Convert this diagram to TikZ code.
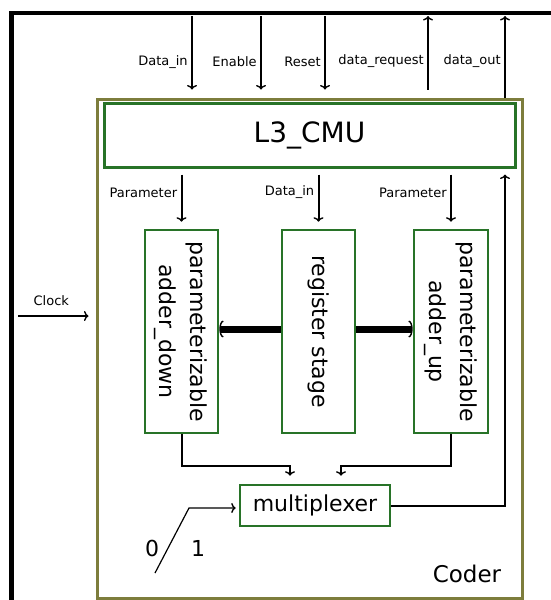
\documentclass[tikz,border=0pt]{standalone}
\usepackage{fontspec}
\setmainfont{DejaVu Sans}
\usepackage{graphicx}
\usetikzlibrary{arrows.meta}
\definecolor{blockgreen}{RGB}{40,115,40}
\definecolor{coderolive}{RGB}{125,125,60}
\tikzset{
  blockbox/.style={draw=blockgreen, line width=2.6pt, fill=white, inner sep=0pt},
  sig/.style={line width=2pt, ->},
  lbl/.style={font=\fontsize{13}{15}\selectfont},
  big/.style={font=\fontsize{22}{31}\selectfont},
}
\newcommand{\vtext}[1]{\rotatebox{-90}{\begin{tabular}{@{}c@{}}#1\end{tabular}}}

\begin{document}
\begin{tikzpicture}[x=1pt,y=-1pt,>={Computer Modern Rightarrow[length=4.5pt,width=10pt,line width=1.4pt]}]
  \useasboundingbox (0,0) rectangle (551,600);
  \draw[line width=4.5pt] (11.5,600) -- (11.5,13) -- (551,13);

  % blocks
  \node[draw=coderolive, line width=3pt, minimum width=425pt, minimum height=499pt] (coder) at (309.5,348.5) {};
  \node[blockbox, line width=3pt, minimum width=411pt, minimum height=64pt, font=\fontsize{28}{32}\selectfont] (cmu) at (309.5,135) {L3\_CMU};
  \node[blockbox, big, minimum width=73pt, minimum height=203pt] (adown) at (181.5,331.5) {\vtext{parameterizable\\adder\_down}};
  \node[blockbox, big, minimum width=73pt, minimum height=203pt] (reg) at (318.5,331.5) {\vtext{register stage}};
  \node[blockbox, big, minimum width=74pt, minimum height=203pt] (aup) at (451,331.5) {\vtext{parameterizable\\adder\_up}};
  \node[blockbox, big, minimum width=150pt, minimum height=41pt] (mux) at (315,505.5) {multiplexer};
  \node[font=\fontsize{23}{28}\selectfont, anchor=base] (codername) at (467,582) {Coder};
  \node[big] (zero) at (152,548) {0};
  \node[big] (one) at (198,548) {1};

  % external signals
  \coordinate (datain) at (192,16);
  \coordinate (enable) at (261,16);
  \coordinate (reset) at (325,16);
  \coordinate (datareq) at (428,16);
  \coordinate (dataout) at (505,16);
  \coordinate (clock) at (18,316);
  \draw[sig, shorten >=8pt] (datain) -- (datain |- coder.north) node[pos=0.56, left, lbl]{Data\_in};
  \draw[sig, shorten >=8pt] (enable) -- (enable |- coder.north) node[pos=0.56, left, lbl]{Enable};
  \draw[sig, shorten >=8pt] (reset) -- (reset |- coder.north) node[pos=0.56, left, lbl]{Reset};
  \draw[sig, shorten <=8pt] (datareq |- coder.north) -- (datareq) node[pos=0.45, left, lbl]{data\_request};
  \draw[sig] (dataout |- coder.north) -- (dataout) node[pos=0.45, left, lbl]{data\_out};
  \draw[sig, shorten >=7pt] (clock) -- (clock -| coder.west) node[pos=0.43, above=6pt, lbl]{Clock};

  % internal signals
  \draw[sig, shorten <=6pt, shorten >=7pt] (adown.north |- cmu.south) -- (adown.north) node[pos=0.4, left, lbl]{Parameter};
  \draw[sig, shorten <=6pt, shorten >=7pt] (reg.north |- cmu.south) -- (reg.north) node[pos=0.4, left, lbl]{Data\_in};
  \draw[sig, shorten <=6pt, shorten >=7pt] (aup.north |- cmu.south) -- (aup.north) node[pos=0.4, left, lbl]{Parameter};
  \draw[line width=7pt, -{Arc Barb[line width=1.4pt,length=4pt,width=17pt]}] ([yshift=2.5pt]reg.west) -- ([yshift=2.5pt]reg.west -| adown.east);
  \draw[line width=7pt, -{Arc Barb[line width=1.4pt,length=4pt,width=17pt]}] ([yshift=2.5pt]reg.east) -- ([yshift=2.5pt]reg.east -| aup.west);
  \draw[sig, shorten >=8pt] (adown.south) -- ++(0,32) -| ([xshift=-25pt]mux.north);
  \draw[sig, shorten >=8pt] (aup.south) -- ++(0,32) -| ([xshift=26pt]mux.north);
  \draw[sig, shorten >=6pt] (mux.east) -| (dataout |- cmu.south);

  % select switch
  \coordinate (swlo) at (155,573);
  \coordinate (swhi) at (189,508);
  \draw[line width=1.2pt, shorten >=3pt, ->] (swlo) -- (swhi) -- (swhi -| mux.west);
\end{tikzpicture}
\end{document}
